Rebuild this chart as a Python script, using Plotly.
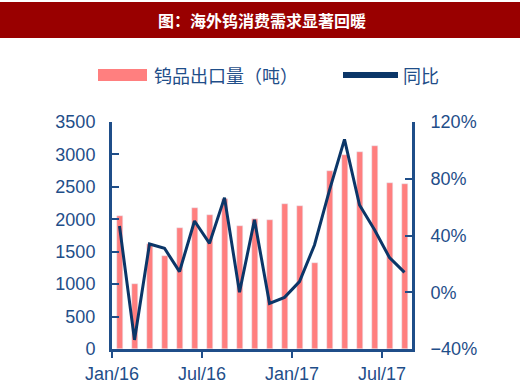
import plotly.graph_objects as go

months = ["Jan/16", "Feb/16", "Mar/16", "Apr/16", "May/16", "Jun/16", "Jul/16", "Aug/16",
          "Sep/16", "Oct/16", "Nov/16", "Dec/16", "Jan/17", "Feb/17", "Mar/17", "Apr/17",
          "May/17", "Jun/17", "Jul/17", "Aug/17"]
exports = [2050, 1000, 1620, 1440, 1870, 2170, 2070, 2320, 1900, 2000,
           1990, 2240, 2210, 1320, 2740, 2990, 3030, 3130, 2560, 2550]
yoy = [46.7, -33.6, 34.0, 31.0, 14.5, 50.2, 34.5, 66.7, 0.0, 51.0,
       -7.8, -3.6, 7.5, 33.3, 72.0, 107.8, 61.5, 44.0, 24.4, 14.0]
tick_labels = ["Jan/16", "Jul/16", "Jan/17", "Jul/17"]
tick_months = ["Jan/16", "Jul/16", "Jan/17", "Jul/17"]

title_text = "图：海外钨消费需求显著回暖"
bar_name = "钨品出口量（吨）"
line_name = "同比"

BAR_COLOR = "#FF7F7F"
LINE_COLOR = "#0B3668"
AXIS_COLOR = "#1F4E89"
TEXT_COLOR = "#1F4E89"
FONT = "Liberation Sans, Arial, sans-serif"
CJK = "Noto Sans CJK SC"

x_idx = list(range(len(months)))
tick_pos = [months.index(m) - 0.5 for m in tick_months]

fig = go.Figure()
fig.add_trace(go.Bar(x=x_idx, y=exports, name=bar_name, marker_color=BAR_COLOR,
                     width=0.4, yaxis="y", showlegend=False))
fig.add_trace(go.Scatter(x=x_idx, y=yoy, name=line_name, mode="lines",
                         line=dict(color=LINE_COLOR, width=3), yaxis="y2", showlegend=False))

# plot-area geometry (px): x 112..412, y 122..349
def px_x(px):
    return (px - 112) / 300.0

def px_y(py):
    return (349 - py) / 227.0

shapes = [
    dict(type="rect", xref="paper", yref="paper", x0=px_x(0), x1=px_x(520),
         y0=px_y(38), y1=px_y(2), fillcolor="#990000", line=dict(width=0), layer="below"),
    dict(type="rect", xref="paper", yref="paper", x0=px_x(98), x1=px_x(147),
         y0=px_y(81), y1=px_y(69), fillcolor=BAR_COLOR, line=dict(width=0)),
    dict(type="line", xref="paper", yref="paper", x0=px_x(343), x1=px_x(398),
         y0=px_y(75), y1=px_y(75), line=dict(color=LINE_COLOR, width=6)),
]
annotations = [
    dict(text="<b>" + title_text + "</b>", xref="paper", yref="paper", x=px_x(262), y=px_y(20),
         showarrow=False, font=dict(family=CJK, size=16, color="white"),
         xanchor="center", yanchor="middle"),
    dict(text=bar_name, xref="paper", yref="paper", x=px_x(152), y=px_y(75),
         showarrow=False, font=dict(family=CJK, size=18, color=TEXT_COLOR),
         xanchor="left", yanchor="middle"),
    dict(text=line_name, xref="paper", yref="paper", x=px_x(401), y=px_y(75),
         showarrow=False, font=dict(family=CJK, size=18, color=TEXT_COLOR),
         xanchor="left", yanchor="middle"),
]

fig.update_layout(
    width=520, height=387,
    margin=dict(l=112, r=108, t=122, b=38, autoexpand=False),
    paper_bgcolor="white", plot_bgcolor="white",
    font=dict(family=FONT, size=18, color=TEXT_COLOR),
    bargap=0,
    shapes=shapes, annotations=annotations,
    xaxis=dict(range=[-0.5, len(months) - 0.5], tickmode="array", tickvals=tick_pos,
               ticktext=tick_labels, showgrid=False, zeroline=False, showline=True,
               linecolor=AXIS_COLOR, linewidth=3, ticks="outside", ticklen=6,
               tickwidth=2, tickcolor=AXIS_COLOR, automargin=False,
               tickfont=dict(size=18, color=TEXT_COLOR)),
    yaxis=dict(range=[0, 3500], dtick=500, tick0=0, showgrid=False, zeroline=False,
               showline=True, linecolor=AXIS_COLOR, linewidth=3, ticks="inside",
               ticklen=7, tickwidth=2, tickcolor=AXIS_COLOR, ticklabelstandoff=10,
               automargin=False, tickfont=dict(size=18, color=TEXT_COLOR)),
    yaxis2=dict(range=[-40, 120], dtick=40, tick0=-40, overlaying="y", side="right",
                showgrid=False, zeroline=False, showline=True, linecolor=AXIS_COLOR,
                linewidth=3, ticks="inside", ticklen=7, tickwidth=2, tickcolor=AXIS_COLOR,
                ticksuffix="%", ticklabelstandoff=12, automargin=False,
                tickfont=dict(size=18, color=TEXT_COLOR)),
)

fig.write_html("out.html", config={"displayModeBar": False},
               post_script="document.body.style.margin='0';document.body.style.overflow='hidden';")
